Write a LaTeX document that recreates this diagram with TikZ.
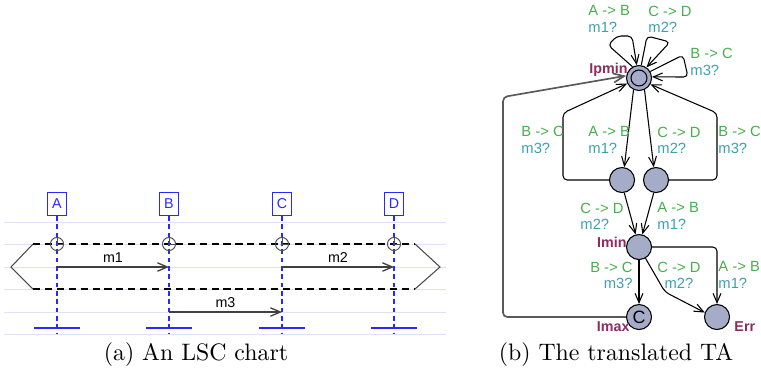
\documentclass[tikz,border=0pt]{standalone}
\usepackage{fontspec}
\newfontfamily\uppaalfont{Liberation Sans}
\usepackage{tikz}
\usetikzlibrary{arrows}
\definecolor{lscblue}{RGB}{40,40,255}
\definecolor{rulecol}{RGB}{224,224,252}
\definecolor{guard}{RGB}{70,175,75}
\definecolor{sync}{RGB}{60,160,175}
\definecolor{locred}{RGB}{140,45,95}
\definecolor{locfill}{RGB}{165,172,200}
\tikzstyle{chartrule} = [draw=rulecol, line width=0.4pt]
\tikzstyle{instance} = [rectangle, draw=lscblue, text=lscblue, minimum width=7.6pt, minimum height=9.7pt, inner sep=0pt, font=\uppaalfont\fontsize{6}{7}\selectfont]
\tikzstyle{lifeline} = [draw=lscblue, dash pattern=on 2pt off 1.5pt, line width=0.45pt]
\tikzstyle{lifeend} = [draw=lscblue, line width=0.5pt]
\tikzstyle{syncpt} = [circle, draw=black!70, minimum size=5.5pt, inner sep=0pt, line width=0.4pt]
\tikzstyle{message} = [->, >=angle 45, draw=black!75, line width=0.55pt]
\tikzstyle{msglabel} = [font=\uppaalfont\fontsize{6}{7}\selectfont, inner sep=1.5pt]
\tikzstyle{loc} = [circle, draw=black, fill=locfill, minimum size=10.5pt, inner sep=0pt, line width=0.45pt]
\tikzstyle{locname} = [font=\uppaalfont\bfseries\fontsize{6}{7}\selectfont, text=locred, inner sep=0pt]
\tikzstyle{trans} = [font=\uppaalfont\fontsize{6.2}{6.8}\selectfont, align=left, inner sep=0pt, anchor=west]
\tikzstyle{edge} = [->, >=angle 45, line width=0.45pt, rounded corners=1.8pt]
\tikzstyle{caption} = [font=\normalsize, inner sep=0pt]
\newcommand{\trlab}[2]{\textcolor{guard}{#1}\\\textcolor{sync}{#2}}

\begin{document}
\begin{tikzpicture}[x=0.42pt, y=-0.42pt]
\useasboundingbox (0,0) rectangle (761,378);

\foreach \y in {222,244,267,289,312,334}
  \draw [chartrule] (4,\y) -- (446,\y);

\draw [dash pattern=on 3pt off 2pt, line width=0.5pt] (33,244) -- (415,244) (33,289) -- (415,289);
\draw [black!70, line width=0.45pt] (33,244) -- (11,267) -- (33,289) (415,244) -- (440,267) -- (415,289);

\foreach \n/\x in {A/57,B/169,C/282,D/394} {
  \node (\n) [instance] at (\x,204) {\n};
  \coordinate (\n end) at (\x,334);
  \coordinate (\n1) at (\x,267);
  \coordinate (\n3) at (\x,312);
  \draw [lifeline] (\n) -- (\n end);
  \draw [lifeend] (\x-23,328) -- (\x+23,328);
  \node (\n sync) [syncpt] at (\x,244) {};
  \draw [black!70, line width=0.4pt] (\n sync.north) -- (\n sync.center) -- (\n sync.east);
}

\draw [message] (A1) -- node (m1) [msglabel, above] {m1} (B1);
\draw [message] (C1) -- node (m2) [msglabel, above] {m2} (D1);
\draw [message] (B3) -- node (m3) [msglabel, above] {m3} (C3);

\node (ipmin) [loc] at (639,78) {};
\node (ipminin) [circle, draw, minimum size=6.7pt, inner sep=0pt, line width=0.45pt] at (ipmin) {};
\node (lm) [loc] at (622,180) {};
\node (rm) [loc] at (656,180) {};
\node (imin) [loc] at (639,247) {};
\node (imax) [loc, font=\uppaalfont\fontsize{7.5}{8}\selectfont] at (639,317) {C};
\node (err) [loc] at (717,317) {};

\node (ipminname) [locname, anchor=east] at (628,70) {Ipmin};
\node (iminname) [locname, anchor=east] at (627,242) {Imin};
\node (imaxname) [locname, anchor=east] at (630,327) {Imax};
\node (errname) [locname, anchor=west] at (734,327) {Err};

\coordinate (l1a) at (608,45);
\coordinate (l1b) at (617,36);
\coordinate (l1c) at (632,36);
\coordinate (l2a) at (647,36);
\coordinate (l2b) at (670,42);
\coordinate (l3a) at (683,55);
\coordinate (l3b) at (688,77);
\coordinate (wl) at (563,113);
\coordinate (wr) at (717,113);
\coordinate (wb) at (503,97);
\coordinate (we) at (665,292);

\draw [edge] (ipmin.120) -- (l1a) -- (l1b) -- (l1c) -- (ipmin.100);
\draw [edge] (ipmin.80) -- (l2a) -- (l2b) -- (ipmin.55);
\draw [edge] (ipmin.30) -- (l3a) -- (l3b) -- (ipmin.5);
\draw [edge] (ipmin.245) -- (lm.80);
\draw [edge] (ipmin.295) -- (rm.100);
\draw [edge] (lm.west) -| (wl) -- (ipmin.205);
\draw [edge] (rm.east) -| (wr) -- (ipmin.331);
\draw [edge] (lm.280) -- (imin.105);
\draw [edge] (rm.260) -- (imin.75);
\draw [edge] (imin) -- (imax);
\draw [edge] (imin.300) -- (we) -- (err.160);
\draw [edge] (imin.east) -| (err);
\draw [edge, draw=black!65, line width=0.7pt] (imax.west) -| (wb) -- (ipmin.170);

\node (t1) [trans] at (588,19) {\trlab{A -> B}{m1?}};
\node (t2) [trans] at (648,19) {\trlab{C -> D}{m2?}};
\node (t3) [trans] at (690,62) {\trlab{B -> C}{m3?}};
\node (t4) [trans] at (521,140) {\trlab{B -> C}{m3?}};
\node (t5) [trans] at (588,140) {\trlab{A -> B}{m1?}};
\node (t6) [trans] at (657,140) {\trlab{C -> D}{m2?}};
\node (t7) [trans] at (718,140) {\trlab{B -> C}{m3?}};
\node (t8) [trans] at (580,216) {\trlab{C -> D}{m2?}};
\node (t9) [trans] at (657,216) {\trlab{A -> B}{m1?}};
\node (t10) [trans, anchor=east, align=right] at (633,275) {\trlab{B -> C}{m3?}};
\node (t11) [trans, align=center] at (657,275) {\trlab{C -> D}{m2?}};
\node (t12) [trans] at (718,275) {\trlab{A -> B}{m1?}};

\node (capa) [caption] at (196,355) {(a) An LSC chart};
\node (capb) [caption] at (616,355) {(b) The translated TA};
\end{tikzpicture}
\end{document}
